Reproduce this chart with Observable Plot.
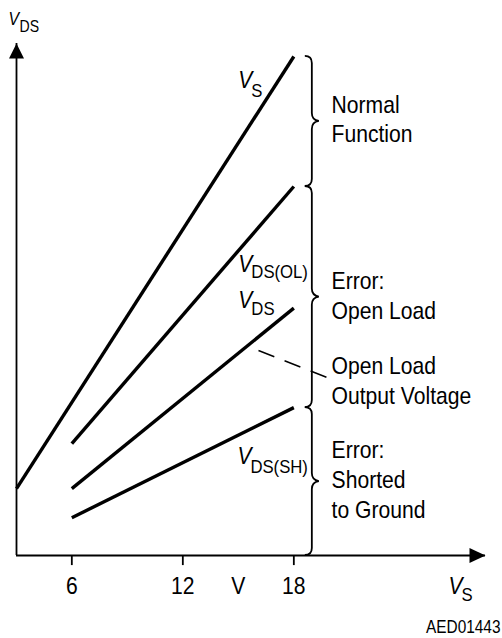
<!DOCTYPE html>
<html>
<head>
<meta charset="utf-8">
<script src="https://cdn.jsdelivr.net/npm/d3@7"></script>
<script src="https://cdn.jsdelivr.net/npm/@observablehq/plot@0.6"></script>
<style>
  html, body { margin: 0; padding: 0; background: #fff; }
  #chart svg { display: block; }
</style>
</head>
<body>
<div id="chart"></div>
<script>
// ---- Data (volts) ----
const seriesNames = ["V_S", "V_DS(OL)", "V_DS", "V_DS(SH)"];
const xStart = [3.01, 6, 6, 6];
const xEnd   = [18, 18, 18, 18];
const yStart = [3.01, 4.57, 3.01, 2.00];
const yEnd   = [18, 13.49, 9.27, 5.82];

const xTicks = [6, 12, 18];
const xTickLabels = ["6", "12", "V", "18"];
const xTickLabelAt = [6, 12, 15, 18];

const braceTop    = [18, 13.49, 5.82];
const braceBottom = [13.49, 5.82, 0.69];
const braceTexts  = ["Normal\nFunction", "Error:\nOpen Load", "Error:\nShorted\nto Ground"];
const braceTextY  = [15.02, 8.91, 2.00];

const lineLabelMain = ["V", "V", "V", "V"];
const lineLabelSub  = ["S", "DS(OL)", "DS", "DS(SH)"];
const lineLabelX    = [15.0, 15.0, 15.0, 14.95];
const lineLabelY    = [16.92, 10.51, 9.29, 3.88];
const lineLabelSubDy = [9, 6, 7, 9];

const xDomain = [3.01, 28.36];
const yDomain = [0.69, 18.45];

// ---- Build tables ----
const segments = seriesNames.map((name, i) => ({name, x1: xStart[i], y1: yStart[i], x2: xEnd[i], y2: yEnd[i]}));
const tickLabelRows = xTickLabels.map((t, i) => ({t, x: xTickLabelAt[i]}));
const braceRows = braceTexts.map((t, i) => ({t, y: braceTextY[i]}));
const lineLabelRows = lineLabelMain.map((m, i) => ({m, s: lineLabelSub[i], x: lineLabelX[i], y: lineLabelY[i], sdy: lineLabelSubDy[i]}));

const FONT = "'Liberation Sans', Arial, Helvetica, sans-serif";
const NARROW = 0.88; // horizontal condensing of all text
const ns = "http://www.w3.org/2000/svg";
const braceX = 19.0;

const upArrow = {draw(ctx) { ctx.moveTo(0, 0); ctx.lineTo(-7.5, 15); ctx.lineTo(7.5, 15); ctx.closePath(); }};
const rightArrow = {draw(ctx) { ctx.moveTo(0, 0); ctx.lineTo(-16, -7.5); ctx.lineTo(-16, 7.5); ctx.closePath(); }};

function braceMark(index, scales) {
  const {x, y} = scales;
  const g = document.createElementNS(ns, "g");
  braceTop.forEach((t, i) => {
    const xs = x(braceX), y1 = y(t), y2 = y(braceBottom[i]), ym = (y1 + y2) / 2;
    const w = 7, c = 7, tip = 8;
    const d = `M${xs - w},${y1}Q${xs},${y1} ${xs},${y1 + c}L${xs},${ym - tip}Q${xs},${ym - 1} ${xs + w},${ym}Q${xs},${ym + 1} ${xs},${ym + tip}L${xs},${y2 - c}Q${xs},${y2} ${xs - w},${y2}`;
    const p = document.createElementNS(ns, "path");
    p.setAttribute("d", d);
    p.setAttribute("fill", "none");
    p.setAttribute("stroke", "black");
    p.setAttribute("stroke-width", "1.8");
    g.appendChild(p);
  });
  return g;
}

const chart = Plot.plot({
  width: 502,
  height: 638,
  marginLeft: 16,
  marginRight: 17,
  marginTop: 43,
  marginBottom: 83,
  x: {domain: xDomain, axis: null},
  y: {domain: yDomain, axis: null},
  style: {fontFamily: FONT, fontSize: "24px", color: "black", background: "white", overflow: "visible"},
  marks: [
    // axes
    Plot.ruleX([xDomain[0]], {stroke: "black", strokeWidth: 1.8}),
    Plot.ruleY([yDomain[0]], {stroke: "black", strokeWidth: 1.8}),
    Plot.dot([0], {x: () => xDomain[0], y: () => yDomain[1], symbol: upArrow, fill: "black", stroke: "none"}),
    Plot.dot([0], {x: () => xDomain[1], y: () => yDomain[0], symbol: rightArrow, fill: "black", stroke: "none"}),
    Plot.ruleX(xTicks, {x: d => d, y1: yDomain[0], y2: yDomain[0] - 0.35, stroke: "black", strokeWidth: 1.8}),
    Plot.text(tickLabelRows, {x: "x", frameAnchor: "bottom", text: "t", dy: 38, lineAnchor: "bottom", fontSize: 24}),
    // axis titles
    Plot.text(["V"], {x: () => 2.58, y: () => 19.08, text: d => d, textAnchor: "start", lineAnchor: "bottom", fontStyle: "italic", fontSize: 18}),
    Plot.text(["DS"], {x: () => 2.58, y: () => 19.08, text: d => d, textAnchor: "start", lineAnchor: "bottom", dx: 11, dy: 7, fontSize: 16}),
    Plot.text(["V"], {x: () => 26.36, frameAnchor: "bottom", text: d => d, textAnchor: "start", lineAnchor: "bottom", dy: 38, fontStyle: "italic", fontSize: 24}),
    Plot.text(["S"], {x: () => 26.36, frameAnchor: "bottom", text: d => d, textAnchor: "start", lineAnchor: "bottom", dx: 13, dy: 45, fontSize: 19}),
    // data lines
    Plot.link(segments, {x1: "x1", y1: "y1", x2: "x2", y2: "y2", stroke: "black", strokeWidth: 3.4, strokeLinecap: "butt"}),
    // line labels
    Plot.text(lineLabelRows, {x: "x", y: "y", text: "m", textAnchor: "start", lineAnchor: "bottom", fontStyle: "italic", fontSize: 24}),
    ...lineLabelRows.map(r => Plot.text([r], {x: "x", y: "y", text: "s", textAnchor: "start", lineAnchor: "bottom", dx: 13, dy: r.sdy, fontSize: 19})),
    // braces
    braceMark,
    Plot.text(braceRows, {x: () => 20.04, y: "y", text: "t", textAnchor: "start", lineAnchor: "bottom", lineHeight: 1.24, fontSize: 24}),
    // dashed pointer + label
    Plot.link([0], {x1: () => 16.09, y1: () => 7.80, x2: () => 19.82, y2: () => 6.86, stroke: "black", strokeWidth: 1.5, strokeDasharray: "17,11"}),
    Plot.text(["Open Load\nOutput Voltage"], {x: () => 20.04, y: () => 5.96, text: d => d, textAnchor: "start", lineAnchor: "bottom", lineHeight: 1.24, fontSize: 24}),
    // figure code
    Plot.text(["AED01443"], {frameAnchor: "bottom-right", text: d => d, textAnchor: "end", lineAnchor: "bottom", dx: 15, dy: 77, fontSize: 17.5})
  ]
});

// Condense text horizontally around each text's own anchor point (narrow typeface look)
chart.querySelectorAll("text").forEach(t => {
  const tr = t.getAttribute("transform");
  if (tr && /translate/.test(tr)) {
    t.setAttribute("transform", tr + ` scale(${NARROW},1)`);
  } else {
    const x = +(t.getAttribute("x") || 0);
    t.setAttribute("transform", `translate(${x},0) scale(${NARROW},1) translate(${-x},0)`);
  }
});

document.getElementById("chart").appendChild(chart);
</script>
</body>
</html>
